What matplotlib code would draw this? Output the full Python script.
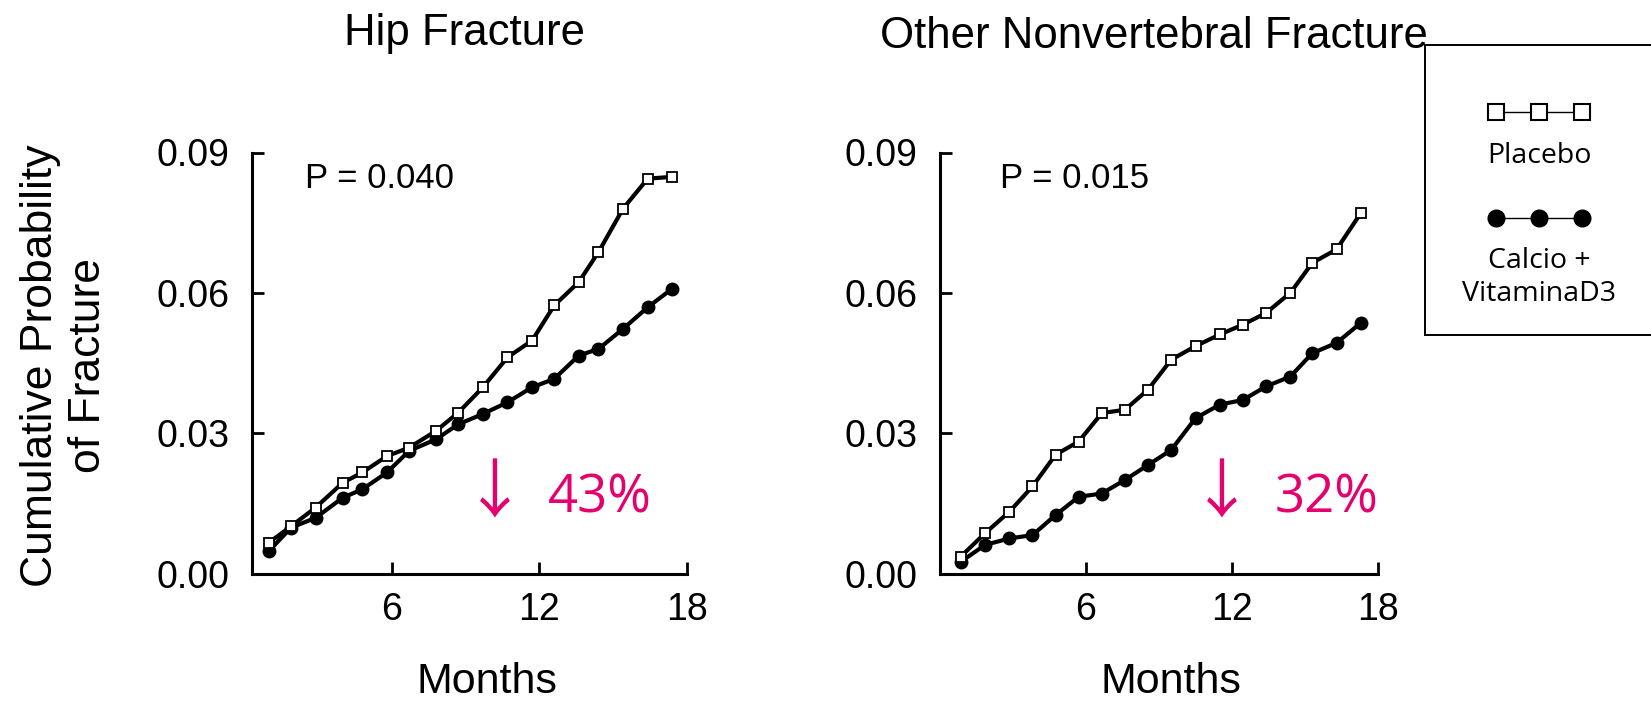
import matplotlib
matplotlib.use('Agg')
import matplotlib.pyplot as plt
from matplotlib.lines import Line2D
from matplotlib.offsetbox import VPacker

# data (months, cumulative probability)
hip_months = [1.0, 1.9, 2.9, 4.0, 4.8, 5.8, 6.7, 7.8, 8.7, 9.7, 10.7, 11.7, 12.6, 13.6, 14.4, 15.4, 16.4, 17.4]
hip_placebo = [0.0066, 0.0101, 0.0141, 0.0194, 0.0216, 0.0251, 0.0269, 0.0305, 0.0344, 0.0398,
               0.0462, 0.0498, 0.0573, 0.0623, 0.0687, 0.0780, 0.0844, 0.0848]
hip_calcium = [0.0048, 0.0098, 0.0119, 0.0162, 0.0180, 0.0216, 0.0262, 0.0287, 0.0319, 0.0341,
               0.0366, 0.0398, 0.0416, 0.0466, 0.0480, 0.0523, 0.0569, 0.0609]

other_months = [0.85, 1.85, 2.85, 3.8, 4.75, 5.7, 6.65, 7.6, 8.55, 9.5, 10.5, 11.5, 12.45, 13.4, 14.4, 15.3, 16.3, 17.3]
other_placebo = [0.0036, 0.0086, 0.0132, 0.0186, 0.0254, 0.0282, 0.0343, 0.0350, 0.0393, 0.0457,
                 0.0486, 0.0511, 0.0532, 0.0557, 0.0600, 0.0664, 0.0693, 0.0771]
other_calcium = [0.0025, 0.0061, 0.0075, 0.0082, 0.0125, 0.0164, 0.0171, 0.0200, 0.0232, 0.0264,
                 0.0332, 0.0361, 0.0371, 0.0400, 0.0421, 0.0471, 0.0493, 0.0536]

titles = ['Hip Fracture', 'Other Nonvertebral Fracture']
p_values = ['P = 0.040', 'P = 0.015']
reductions = ['43%', '32%']
series_names = ['Placebo', 'Calcio +\nVitaminaD3']
yticks = [0.0, 0.03, 0.06, 0.09]
xticks = [6, 12, 18]

W, H = 1651, 701
PINK = '#E6006E'
MAIN_FONT = ['Liberation Sans', 'DejaVu Sans']
PPT_FONT = ['Open Sans', 'Noto Sans', 'DejaVu Sans']
ARROW_FONT = ['Noto Sans CJK JP', 'DejaVu Sans']

plt.rcParams['font.family'] = MAIN_FONT

fig = plt.figure(figsize=(W / 100, H / 100), dpi=100)

def frac(x0, y_top, x1, y_bot):
    return [x0 / W, 1 - y_bot / H, (x1 - x0) / W, (y_bot - y_top) / H]

ax1 = fig.add_axes(frac(251.7, 152.5, 687, 573.5))
ax2 = fig.add_axes(frac(940, 152.5, 1378, 573.5))

# ax, x, placebo, calcium, xmin, title x/y, P x, pct right x, arrow centre x
panels = [
    (ax1, hip_months, hip_placebo, hip_calcium, 0.3, 0.49, 1.255, 0.122, 0.92, 0.559),
    (ax2, other_months, other_placebo, other_calcium, 0.0, 0.489, 1.248, 0.137, 1.0, 0.644),
]

for i, (ax, months, plac, calc, x_lo, tx, ty, px_, rx, arx) in enumerate(panels):
    ax.plot(months, calc, color='black', lw=3.0, marker='o', ms=9,
            mfc='black', mec='black', zorder=3)
    ax.plot(months, plac, color='black', lw=3.0, marker='s', ms=7.5,
            mfc='white', mec='black', mew=1.3, zorder=4)
    ax.set_xlim(x_lo, 18)
    ax.set_ylim(0, 0.09)
    ax.set_xticks(xticks)
    ax.set_yticks(yticks)
    ax.set_yticklabels(['%.2f' % v for v in yticks])
    for s in ['top', 'right']:
        ax.spines[s].set_visible(False)
    for s in ['left', 'bottom']:
        ax.spines[s].set_linewidth(2.2)
    ax.tick_params(axis='both', direction='in', length=8.5, width=2.0, labelsize=27)
    ax.tick_params(axis='y', pad=16)
    ax.tick_params(axis='x', pad=13)

    ax.text(tx, ty, titles[i], transform=ax.transAxes, ha='center', va='baseline', fontsize=31.5)
    ax.text(px_, 0.916, p_values[i], transform=ax.transAxes, ha='left', va='baseline', fontsize=25)
    ax.text(rx, 0.144, reductions[i], transform=ax.transAxes, ha='right', va='baseline',
            fontsize=38, color=PINK, family=PPT_FONT)
    ax.text(arx, 0.144, '\u2193', transform=ax.transAxes, ha='center', va='baseline',
            fontsize=46, color=PINK, family=ARROW_FONT)

    ax.set_xlabel('Months', fontsize=31)
    ax.xaxis.label.set_va('center')

ax1.xaxis.set_label_coords(0.54, -0.257)
ax2.xaxis.set_label_coords(0.527, -0.257)

ax1.set_ylabel('Cumulative Probability\nof Fracture', fontsize=32, va='center', ha='center')
ax1.yaxis.set_label_coords(-0.43, 0.493)

# legend panel on the right
lax = fig.add_axes(frac(1425, 45, 1700, 335))
lax.set_xticks([])
lax.set_yticks([])
for s in lax.spines.values():
    s.set_linewidth(1.4)
lax.patch.set_alpha(0)

handles = [
    Line2D([], [], color='black', lw=1.0, marker='s', ms=11.5, mfc='white', mec='black', mew=1.5),
    Line2D([], [], color='black', lw=1.0, marker='o', ms=12, mfc='black', mec='black'),
]
leg = lax.legend(handles, series_names, numpoints=3, handlelength=3.6, frameon=False,
                 loc='center', bbox_to_anchor=(114 / 275, (335 - 205) / 290),
                 prop={'family': PPT_FONT, 'size': 20.5}, labelspacing=1.35)
col = leg._legend_handle_box.get_children()[0]
col._children = [VPacker(pad=0, sep=14, align='center', children=item.get_children())
                 for item in col.get_children()]
col.align = 'center'
for t in leg.get_texts():
    t.set_multialignment('center')

fig.savefig('out.png', dpi=100)
